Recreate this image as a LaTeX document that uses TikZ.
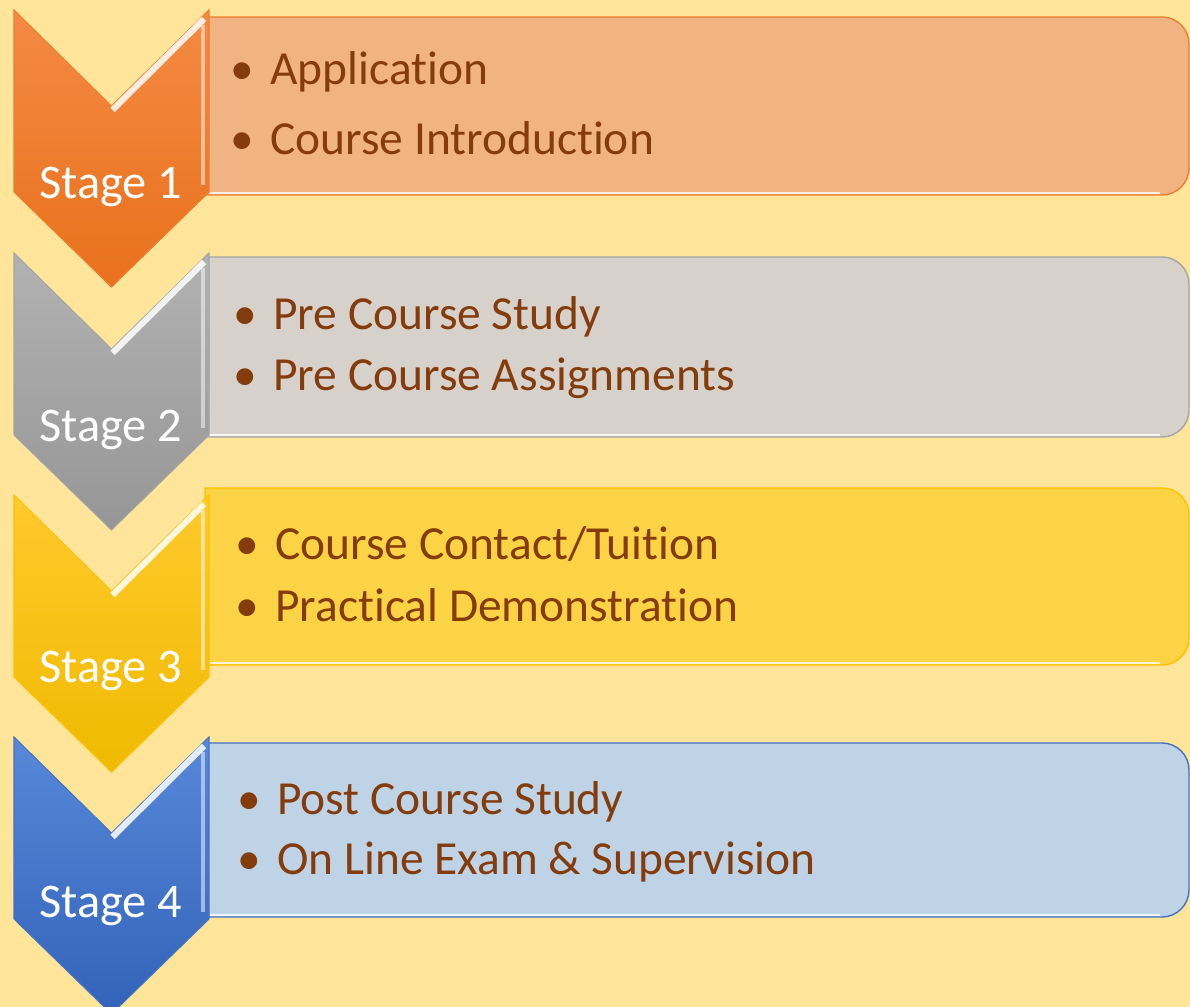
\documentclass[tikz,border=0pt]{standalone}
\usepackage{fontspec}
\setmainfont{Carlito}[Ligatures=NoCommon]
\usetikzlibrary{calc}
\definecolor{bgyellow}{HTML}{FEE599}
\definecolor{itembrown}{HTML}{843C0C}
\definecolor{orangetop}{HTML}{F58A43}
\definecolor{orangebot}{HTML}{E8711C}
\definecolor{orangebox}{HTML}{F2B382}
\definecolor{orangeline}{HTML}{ED7D31}
\definecolor{greytop}{HTML}{B2B2B2}
\definecolor{greybot}{HTML}{969696}
\definecolor{greybox}{HTML}{D6D1CA}
\definecolor{greyline}{HTML}{A5A5A5}
\definecolor{goldtop}{HTML}{FFCA2C}
\definecolor{goldbot}{HTML}{EFBA00}
\definecolor{goldbox}{HTML}{FCD344}
\definecolor{goldline}{HTML}{FFC000}
\definecolor{bluetop}{HTML}{5888D8}
\definecolor{bluebot}{HTML}{3363B9}
\definecolor{bluebox}{HTML}{BED3E5}
\definecolor{blueline}{HTML}{4472C4}
\tikzset{
  stagelabel/.style={anchor=base, inner sep=0pt, text=white, font=\fontsize{27.5}{32}\selectfont},
  itemtext/.style={anchor=base west, inner sep=0pt, text=itembrown, font=\fontsize{27}{32}\selectfont},
}
\newcommand\bul{\makebox[0.8cm][l]{\textbullet}}
% chevron: top y, top colour, bottom colour, edge colour
\def\chevron(#1)[#2][#3][#4]{%
  \shade[top color=#2, bottom color=#3, draw=#4, line width=0.6pt]
    (0.28,#1) -- (2.23,{#1-1.92}) -- (4.18,#1) -- (4.18,{#1-3.64}) -- (2.23,{#1-5.54}) -- (0.28,{#1-3.64}) -- cycle;
  \draw[white, line width=3.5pt, opacity=0.85] (2.25,{#1-2.0}) -- (4.08,{#1-0.18});
  \draw[white, line width=2pt, opacity=0.5] (4.06,{#1-0.3}) -- (4.06,{#1-3.5});
}
% box rounded on the right: top y, bottom y, fill, edge colour
\def\stagebox(#1:#2)[#3][#4]{%
  \draw[fill=#3, draw=#4, line width=0.8pt] (4.1,#1) -- (23.24,#1) arc[start angle=90, end angle=0, radius=0.54]
    -- (23.78,{#2+0.54}) arc[start angle=0, end angle=-90, radius=0.54] -- (4.1,#2) -- cycle;
  \draw[white, line width=1.5pt, opacity=0.8] (4.2,{#2+0.04}) -- (23.2,{#2+0.04});
}
\begin{document}
\begin{tikzpicture}
	%%%%% START %%%%%
	\useasboundingbox (0,0) rectangle (23.8,20.14);
	\clip (0,0) rectangle (23.8,20.14);
	\fill[bgyellow] (0,0) rectangle (23.8,20.14);
	
	\stagebox(19.8:16.24)[orangebox][orangeline]
	\chevron(19.94)[orangetop][orangebot][orangeline]
	\node[stagelabel] (stage1) at (2.22,16.16) {Stage 1};
	\node[itemtext] (s1a) at (4.6,18.44) {\bul Application};
	\node[itemtext] (s1b) at (4.6,17.04) {\bul Course Introduction};
	
	\stagebox(15.0:11.4)[greybox][greyline]
	\chevron(15.08)[greytop][greybot][greyline]
	\node[stagelabel] (stage2) at (2.22,11.3) {Stage 2};
	\node[itemtext] (s2a) at (4.66,13.54) {\bul Pre Course Study};
	\node[itemtext] (s2b) at (4.66,12.32) {\bul Pre Course Assignments};
	
	\stagebox(10.38:6.84)[goldbox][goldline]
	\chevron(10.24)[goldtop][goldbot][goldline]
	\node[stagelabel] (stage3) at (2.22,6.48) {Stage 3};
	\node[itemtext] (s3a) at (4.7,8.94) {\bul Course Contact/Tuition};
	\node[itemtext] (s3b) at (4.7,7.7) {\bul Practical Demonstration};
	
	\stagebox(5.28:1.8)[bluebox][blueline]
	\chevron(5.40)[bluetop][bluebot][blueline]
	\node[stagelabel] (stage4) at (2.22,1.78) {Stage 4};
	\node[itemtext] (s4a) at (4.74,3.84) {\bul Post Course Study};
	\node[itemtext] (s4b) at (4.74,2.64) {\bul On Line Exam \& Supervision};
	
	%%%%% END %%%%%
\end{tikzpicture}
\end{document}
